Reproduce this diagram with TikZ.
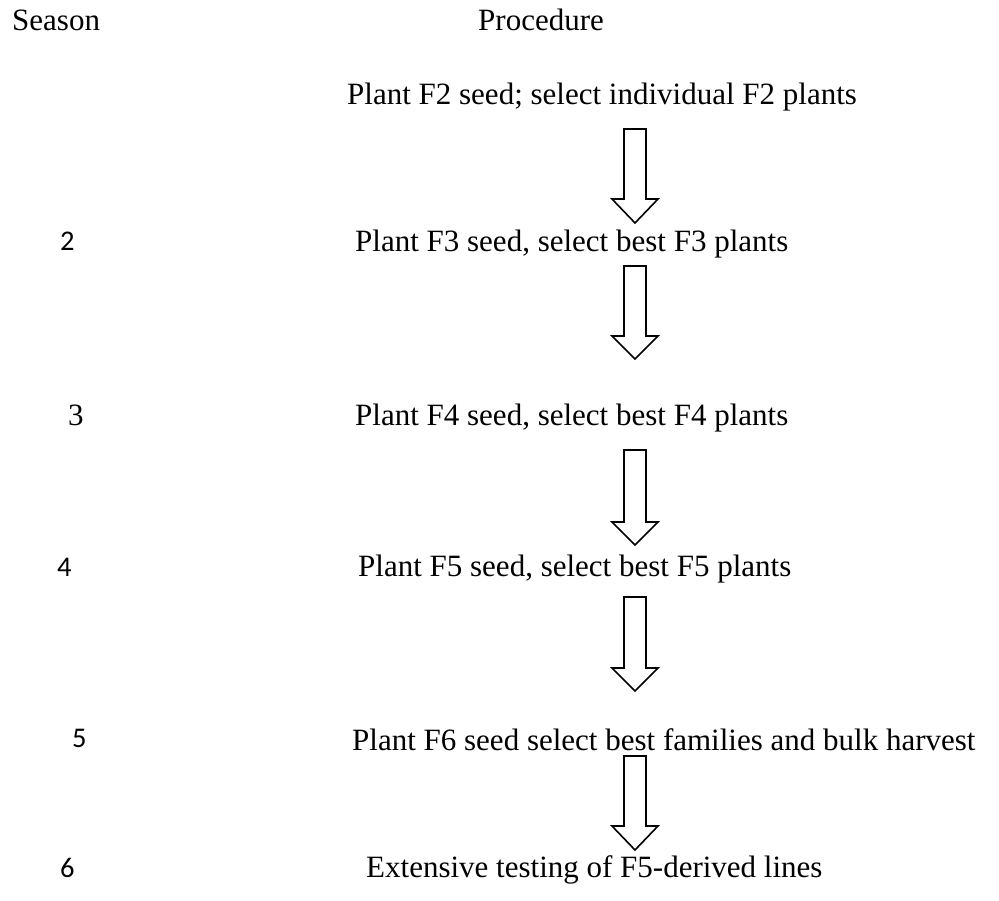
\documentclass[tikz,border=0pt]{standalone}
\usepackage{fontspec}
\setmainfont{Liberation Serif}
\newfontfamily\calfont{Carlito}
\begin{document}
\begin{tikzpicture}[x=1pt,y=-1pt,
  txt/.style={anchor=base west,inner sep=0pt,font=\fontsize{31}{37}\selectfont},
  num/.style={anchor=base west,inner sep=0pt,font=\calfont\fontsize{28.5}{34}\selectfont},
  blockarrow/.style={draw=black,line width=1.6pt,line join=miter,fill=white}]
\useasboundingbox (0,0) rectangle (999,901);
\node[txt] (season) at (12,31) {Season};
\node[txt] (proc) at (478,31) {Procedure};
\node[txt] (s1) at (347,105) {Plant F2 seed; select individual F2 plants};
\node[num] (n2) at (60,251) {2};
\node[txt] (s2) at (355,252) {Plant F3 seed, select best F3 plants};
\node[txt] (n3) at (68,425) {3};
\node[txt] (s3) at (355,425) {Plant F4 seed, select best F4 plants};
\node[num] (n4) at (57,576) {4};
\node[txt] (s4) at (358,576) {Plant F5 seed, select best F5 plants};
\node[num] (n5) at (72,747) {5};
\node[txt] (s5) at (352,750) {Plant F6 seed select best families and bulk harvest};
\node[num] (n6) at (60,877) {6};
\node[txt] (s6) at (366,877) {Extensive testing of F5-derived lines};
\foreach \t/\b/\e in {129/199/223, 266/336/359, 450/522/545, 597/668/691, 756/826/850}{
  \draw[blockarrow] (624,\t) -- (646,\t) -- (646,\b) -- (658,\b) -- (635,\e) -- (612,\b) -- (624,\b) -- cycle;
}
\end{tikzpicture}
\end{document}
